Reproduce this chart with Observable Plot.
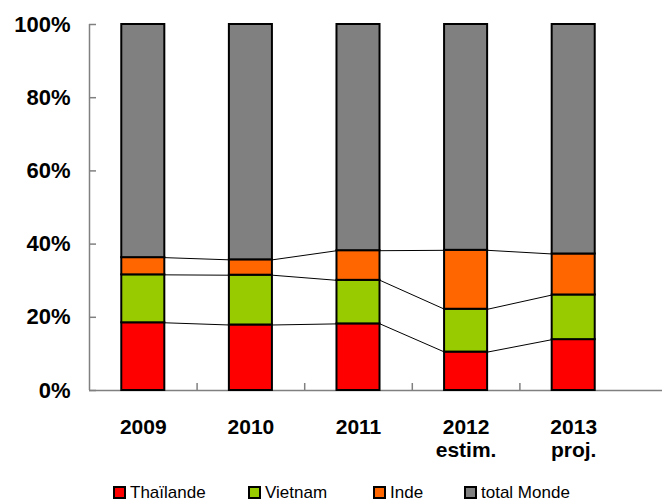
<!DOCTYPE html>
<html>
<head>
<meta charset="utf-8">
<script src="https://cdn.jsdelivr.net/npm/d3@7"></script>
<script src="https://cdn.jsdelivr.net/npm/@observablehq/plot@0.6"></script>
<style>
  html, body { margin: 0; padding: 0; background: #fff; overflow: hidden; }
  body { width: 662px; height: 502px; font-family: "Liberation Sans", Arial, sans-serif; }
  #chart svg { display: block; max-width: none !important; }
  #legend { position: relative; height: 32px; }
  .item { position: absolute; top: 12px; height: 21px; display: flex; align-items: center; font-size: 17px; color: #000; }
  .sw { width: 9px; height: 9px; border: 2px solid #000; margin-right: 4px; }
</style>
</head>
<body>
<div id="chart"></div>
<div id="legend"></div>
<script>
const categories = ["2009", "2010", "2011", "2012\nestim.", "2013\nproj."];
const series = ["Thaïlande", "Vietnam", "Inde", "total Monde"];
const colors = ["#FF0000", "#99CC00", "#FF6600", "#808080"];
const thailande = [18.5, 17.9, 18.2, 10.5, 13.9];
const vietnam   = [13.1, 13.6, 11.9, 11.7, 12.2];
const inde      = [4.7, 4.2, 8.1, 16.1, 11.2];
const monde     = [63.7, 64.3, 61.8, 61.7, 62.7];
const yTicks = [0, 20, 40, 60, 80, 100];
const legendLeft = [113, 248, 373, 464];

const values = [thailande, vietnam, inde, monde];
const rows = [];
categories.forEach((c, i) => {
  let acc = 0;
  values.forEach((v, s) => {
    rows.push({i, s, series: series[s], y1: acc, y2: acc + v[i]});
    acc += v[i];
  });
});
const halfBar = 0.2;
const links = [];
for (let s = 0; s < 3; s++) {
  for (let i = 0; i < categories.length - 1; i++) {
    const a = rows.find(r => r.i === i && r.s === s);
    const b = rows.find(r => r.i === i + 1 && r.s === s);
    links.push({x1: i + halfBar, x2: i + 1 - halfBar, y1: a.y2, y2: b.y2});
  }
}
const gray = "#808080";

const chart = Plot.plot({
  width: 662,
  height: 470,
  marginLeft: 89,
  marginRight: 0,
  marginTop: 24,
  marginBottom: 80,
  style: {fontFamily: "'Liberation Sans', Arial, sans-serif", background: "#fff", overflow: "hidden"},
  x: {type: "linear", domain: [-0.5, categories.length - 0.5], range: [89, 627], axis: null},
  y: {domain: [0, 100], axis: null},
  marks: [
    Plot.ruleY([0], {x1: -0.5, x2: categories.length, stroke: gray, strokeWidth: 1.5}),
    Plot.ruleX([-0.5], {y1: 0, y2: 100, stroke: gray, strokeWidth: 1.5}),
    Plot.axisY({ticks: yTicks, tickSize: 7, dx: 7, fill: "none", stroke: gray, strokeWidth: 1.5, label: null}),
    Plot.axisY({ticks: yTicks, tickSize: 0, tickPadding: 19, tickFormat: d => d + "%", fontSize: 22, fontWeight: "bold", fill: "#000", stroke: "none", label: null}),
    Plot.axisX({ticks: d3.range(categories.length - 1).map(i => i + 0.5), tickSize: 7, dy: -7, fill: "none", stroke: gray, strokeWidth: 1.5, label: null}),
    Plot.link(links, {x1: "x1", x2: "x2", y1: "y1", y2: "y2", stroke: "#000", strokeWidth: 1}),
    Plot.rect(rows, {x1: d => d.i - halfBar, x2: d => d.i + halfBar, y1: "y1", y2: "y2", fill: d => colors[d.s], stroke: "#000", strokeWidth: 2}),
    Plot.text(categories, {x: (d, i) => i, y: () => 0, text: d => d, lineAnchor: "top", dy: 27, lineHeight: 1.1, fontSize: 21, fontWeight: "bold", fill: "#000"})
  ]
});
document.getElementById("chart").appendChild(chart);

const legend = document.getElementById("legend");
series.forEach((s, k) => {
  const it = document.createElement("div");
  it.className = "item";
  it.style.left = legendLeft[k] + "px";
  const sw = document.createElement("div");
  sw.className = "sw";
  sw.style.background = colors[k];
  it.appendChild(sw);
  const t = document.createElement("span");
  t.textContent = s;
  it.appendChild(t);
  legend.appendChild(it);
});
</script>
</body>
</html>
